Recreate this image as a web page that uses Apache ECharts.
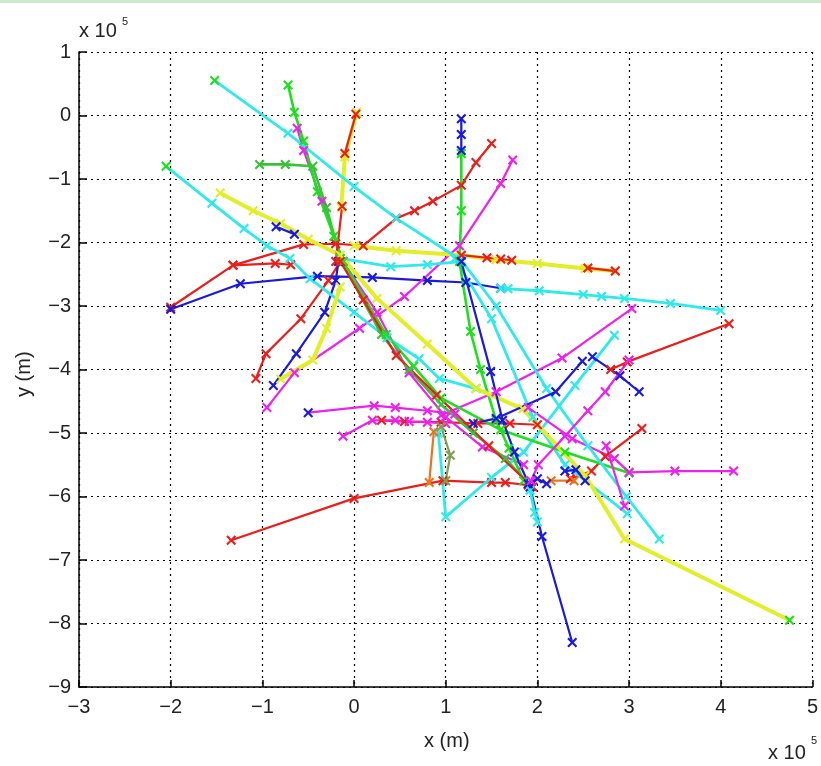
<!DOCTYPE html>
<html><head><meta charset="utf-8">
<script src="https://cdn.jsdelivr.net/npm/echarts@6/dist/echarts.min.js"></script>
<style>html,body{margin:0;padding:0;background:#fff;}#c{width:821px;height:766px;}</style>
</head><body><div id="c"></div>
<script>
// Values in units of 1e5 m (axis labelled "x 10^5")
const xTicks = [-3,-2,-1,0,1,2,3,4,5];
const yTicks = [-9,-8,-7,-6,-5,-4,-3,-2,-1,0,1];

// cyan trajectories
const cyanLong = [[-1.52,0.55],[-0.72,-0.28],[0.0,-1.12],[0.46,-1.62],[1.17,-2.28],[1.55,-3.0],[2.1,-4.3],[2.55,-5.2],[2.97,-6.0],[3.33,-6.67]];
const cyanHub = [[1.1,-2.25],[1.5,-3.2],[1.95,-4.75],[2.3,-5.5],[2.98,-6.27]];
const cyanLeft = [[-2.05,-0.8],[-1.55,-1.38],[-1.2,-1.78],[-0.95,-2.05],[-0.7,-2.25],[-0.48,-2.57],[0.0,-3.1],[0.36,-3.5],[0.71,-3.83],[0.93,-4.14],[1.33,-4.3]];
const cyanMid = [[-0.15,-2.25],[0.4,-2.38],[0.8,-2.35],[1.17,-2.3]];
const cyanRight = [[1.6,-2.72],[1.68,-2.73],[2.02,-2.76],[2.5,-2.82],[2.7,-2.85],[2.95,-2.88],[3.45,-2.96],[4.0,-3.07]];
const cyanBottom = [[0.92,-5.0],[1.0,-6.32],[1.5,-5.7],[1.85,-5.3],[2.41,-4.25],[2.84,-3.46]];
const cyanShort = [[1.92,-5.9],[1.97,-6.25],[2.0,-6.4]];

// yellow trajectories
const yellowMain = [[-1.46,-1.22],[-1.1,-1.5],[-0.8,-1.7],[-0.5,-1.95],[-0.15,-2.2],[0.25,-2.88],[0.8,-3.6],[1.33,-4.3],[1.84,-4.62],[2.52,-5.67],[2.95,-6.67],[4.75,-7.95]];
const yellowRight = [[0.0,-2.05],[0.46,-2.13],[1.17,-2.2],[1.55,-2.27],[2.0,-2.33],[2.52,-2.41],[2.85,-2.45]];
const yellowTop = [[-0.14,-1.45],[-0.1,-0.65],[0.03,0.05]];
const yellowLow = [[-0.8,-4.15],[-0.45,-3.85],[-0.3,-3.35],[-0.15,-2.7]];
const yellowBit = [[2.15,-5.75],[2.4,-5.75]];

// green trajectories
const greenA = [[-0.72,0.48],[-0.65,0.05],[-0.55,-0.4],[-0.4,-1.2],[-0.22,-1.9],[-0.12,-2.3],[0.35,-3.45],[0.65,-3.95],[0.95,-4.45],[1.6,-4.95],[2.3,-5.3],[3.0,-5.63]];
const greenB = [[-1.03,-0.77],[-0.75,-0.77],[-0.45,-0.8],[-0.3,-1.45],[-0.15,-2.25],[0.3,-3.45],[0.6,-4.0],[0.95,-4.55],[1.3,-5.0],[1.65,-5.4],[1.9,-5.8]];
const greenV = [[1.17,-0.6],[1.17,-1.5],[1.15,-2.3],[1.27,-3.4],[1.38,-4.0],[1.55,-4.8],[1.69,-5.24],[1.85,-5.75]];
const olive = [[0.95,-4.9],[1.05,-5.35],[1.0,-5.75]];

// red trajectories
const redBottom = [[-1.34,-6.69],[0.0,-6.03],[0.97,-5.75],[1.5,-5.78],[1.65,-5.78],[1.9,-5.82]];
const redLeft = [[-2.0,-3.02],[-1.32,-2.36],[-0.86,-2.33],[-0.69,-2.35]];
const redUp = [[-1.32,-2.36],[-0.55,-2.03],[-0.2,-2.02],[0.1,-2.05],[0.46,-1.62],[0.66,-1.5],[0.86,-1.35],[1.17,-1.1],[1.33,-0.74],[1.5,-0.44]];
const redVert = [[-0.2,-2.3],[-0.13,-1.43]];
const redTop = [[-0.1,-0.6],[0.02,0.02]];
const redFan = [[-1.07,-4.14],[-0.96,-3.75],[-0.58,-3.2],[-0.28,-2.6],[-0.15,-2.3]];
const redRight = [[4.09,-3.28],[2.98,-3.88],[2.8,-4.0]];
const redLowRight = [[3.14,-4.93],[2.74,-5.37],[2.59,-5.6],[2.36,-5.72]];
const redDiag = [[-0.15,-2.3],[0.1,-2.9],[0.46,-3.78],[0.9,-4.4],[1.47,-5.2],[1.95,-5.85]];
const redH = [[0.3,-4.8],[0.55,-4.82],[0.95,-4.83],[1.35,-4.85],[1.7,-4.85],[2.0,-4.87]];
const orangeV = [[0.87,-4.98],[0.82,-5.78]];
const redBitA = [[1.17,-2.2],[1.45,-2.24],[1.6,-2.26],[1.72,-2.28]];
const redBitB = [[2.55,-2.4],[2.85,-2.45]];

// blue trajectories
const blueLeft = [[-2.0,-3.05],[-1.24,-2.65],[-0.4,-2.53],[0.2,-2.55],[0.8,-2.6],[1.22,-2.63],[1.6,-2.72]];
const blueTop = [[1.17,-0.05],[1.17,-0.3],[1.17,-0.55]];
const blueDown = [[1.17,-2.3],[1.49,-4.03],[1.62,-4.8],[1.75,-5.3],[1.92,-5.85],[2.05,-6.63],[2.38,-8.3]];
const blueMid = [[1.3,-4.85],[1.55,-4.77],[2.2,-4.35],[2.49,-3.87]];
const blueRight = [[2.6,-3.8],[2.9,-4.1],[3.11,-4.35]];
const blueFan = [[-0.88,-4.25],[-0.63,-3.75],[-0.32,-3.1],[-0.2,-2.6],[-0.17,-2.3]];
const blueSmall = [[-0.85,-1.75],[-0.65,-1.87]];
const blueCluster = [[1.9,-5.8],[2.0,-5.72],[2.1,-5.8]];
const blueCluster2 = [[2.3,-5.6],[2.42,-5.58],[2.52,-5.75]];

// magenta trajectories
const magentaA = [[-0.5,-4.68],[0.22,-4.57],[0.45,-4.6],[0.8,-4.65],[1.1,-4.7]];
const magentaB = [[-0.12,-5.05],[0.2,-4.8],[0.45,-4.8],[0.6,-4.82],[0.8,-4.83],[1.0,-4.85]];
const magentaC = [[3.03,-3.04],[2.27,-3.82],[1.55,-4.35],[0.95,-4.72]];
const magentaD = [[1.73,-0.7],[1.6,-1.07],[1.15,-2.05],[0.55,-2.85],[0.06,-3.35],[-0.65,-4.05],[-0.95,-4.6]];
const magentaE = [[-0.62,-0.2],[-0.55,-0.55],[-0.35,-1.35],[-0.12,-2.3],[0.25,-3.1],[0.6,-4.05],[1.0,-4.75],[1.4,-5.22],[1.85,-5.5]];
const magentaF = [[1.9,-4.6],[2.38,-5.09],[2.84,-5.4],[3.0,-5.62],[3.5,-5.6],[4.14,-5.6]];
const magentaG = [[2.75,-5.2],[2.95,-6.15]];
const magentaH = [[1.93,-5.75],[2.01,-5.5],[2.3,-5.05],[2.55,-4.65],[2.74,-4.35],[3.0,-3.85]];

const C = {red:'#ea1e1a', blue:'#1a1ad8', green:'#1ee01e', dgreen:'#38c238', cyan:'#2eeaea', mag:'#ee20ee', yel:'#e2ee28', orange:'#ea7418', olive:'#7fa050'};
// [trajectory, line colour, first-marker colour, last-marker colour]
const traj = [
  [redBottom,'red'],[redLeft,'red'],[redUp,'red'],[redFan,'red'],[redRight,'red'],[redLowRight,'red'],[redH,'red'],
  [blueLeft,'blue'],[blueFan,'blue'],[magentaD,'mag'],[magentaE,'mag'],[magentaA,'mag','blue'],[magentaB,'mag'],[magentaC,'mag'],
  [cyanLeft,'cyan','green'],[cyanMid,'cyan'],[cyanRight,'cyan'],[cyanBottom,'cyan'],[cyanHub,'cyan'],
  [greenB,'dgreen'],[greenA,'green'],[greenV,'green'],
  [yellowRight,'yel'],[yellowMain,'yel',null,'green'],[yellowTop,'yel'],[yellowLow,'yel'],[yellowBit,'orange'],
  [cyanLong,'cyan','green'],[redDiag,'red'],[redVert,'red'],[redTop,'red'],[orangeV,'orange'],[redBitA,'red'],[redBitB,'red'],
  [blueTop,'blue'],[blueDown,'blue'],[cyanShort,'cyan'],[blueMid,'blue'],[blueRight,'blue'],[blueSmall,'blue'],[blueCluster,'blue'],[blueCluster2,'blue'],
  [magentaF,'mag'],[magentaG,'mag'],[magentaH,'mag'],[olive,'olive']
];
const W = {yel:4, cyan:2.8, green:2.6, dgreen:2.6};
const X = 'path://M0,1.5L1.5,0L5,3.5L8.5,0L10,1.5L6.5,5L10,8.5L8.5,10L5,6.5L1.5,10L0,8.5L3.5,5Z';

const chart = echarts.init(document.getElementById('c'), null, {renderer:'canvas'});
const font = "'Liberation Sans', Arial, sans-serif";
const fmt = v => String(v).replace('-', '\u2212');
chart.setOption({
  animation:false,
  grid:{left:79, right:2, top:52, bottom:79},
  xAxis:{type:'value', min:-3, max:5, interval:1,
    axisLine:{show:true, onZero:false, lineStyle:{color:'#000', width:1.5}},
    axisTick:{show:true, inside:true, length:7, lineStyle:{color:'#000', width:1.5}},
    axisLabel:{formatter:fmt, color:'#222', fontSize:20, fontFamily:font, margin:10},
    splitLine:{show:true, lineStyle:{color:'#000', type:[2,4], width:1.2}}},
  yAxis:{type:'value', min:-9, max:1, interval:1,
    axisLine:{show:true, onZero:false, lineStyle:{color:'#000', width:1.5}},
    axisTick:{show:true, inside:true, length:8, lineStyle:{color:'#000', width:1.5}},
    axisLabel:{formatter:fmt, color:'#222', fontSize:20, fontFamily:font, margin:8},
    splitLine:{show:true, lineStyle:{color:'#000', type:[2,4], width:1.2}}},
  graphic:[
    {type:'rect', shape:{x:0,y:0,width:821,height:3}, style:{fill:'#cfe9cf'}},
    {type:'text', left:79, top:21, style:{text:'x 10', fontSize:20, fontFamily:font, fill:'#222'}},
    {type:'text', left:122, top:16, style:{text:'5', fontSize:11, fontFamily:font, fill:'#222'}},
    {type:'text', left:768, top:743, style:{text:'x 10', fontSize:20, fontFamily:font, fill:'#222'}},
    {type:'text', left:811, top:735, style:{text:'5', fontSize:11, fontFamily:font, fill:'#222'}},
    {type:'text', left:424, top:731, style:{text:'x (m)', fontSize:20, fontFamily:font, fill:'#222'}},
    {type:'text', x:14, y:397, rotation:Math.PI/2, style:{text:'y (m)', fontSize:20, fontFamily:font, fill:'#222'}}
  ],
  series: traj.map(([d,c,first,last]) => ({
    type:'line', showSymbol:true, symbol:X, symbolSize:10,
    data: d.map((p,i) => {
      const mc = (i===0 && first) ? first : (i===d.length-1 && last) ? last : null;
      return mc ? {value:p, itemStyle:{color:C[mc]}} : p;
    }),
    lineStyle:{color:C[c], width:W[c]||2.2}, itemStyle:{color:C[c]},
    emphasis:{disabled:true}, silent:true
  }))
});
</script></body></html>
